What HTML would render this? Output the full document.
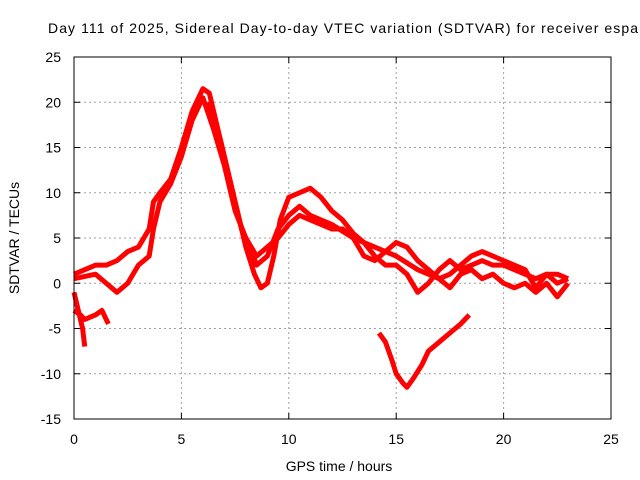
<!DOCTYPE html>
<html><head><meta charset="utf-8"><style>
body{margin:0;background:#fff}
svg{display:block;font-family:"Liberation Sans",sans-serif}
</style></head><body>
<svg id="chart" width="640" height="480">
<text x="48" y="33" font-size="14" textLength="590">Day 111 of 2025, Sidereal Day-to-day VTEC variation (SDTVAR) for receiver espa</text>
<text x="339" y="471" font-size="14" text-anchor="middle">GPS time / hours</text>
<text transform="translate(19,238) rotate(-90)" font-size="14" text-anchor="middle">SDTVAR / TECUs</text>
<g id="grid"></g><g id="series"></g><g id="axes"></g>
</svg>
<script>
const xTicks=[0,5,10,15,20,25];
const yTicks=[-15,-10,-5,0,5,10,15,20,25];
const seriesA=[[0,1],[0.5,1.5],[1,2],[1.5,2],[2,2.5],[2.5,3.5],[3,4],[3.5,6],[3.7,9],[4,10],[4.5,11.5],[5,15],[5.5,19],[6,21.5],[6.3,21],[6.6,18],[7,14],[7.5,9],[8,4],[8.4,1],[8.7,-0.5],[9,0],[9.3,3],[9.6,7],[10,9.5],[10.5,10],[11,10.5],[11.5,9.5],[12,8],[12.5,7],[13,5.5],[13.5,4.5],[14,3],[14.5,2],[15,2],[15.5,1],[16,-1],[16.5,0],[17,1.5],[17.5,2.5],[18,1.5],[18.5,2],[19,2.5],[19.5,2],[20,2],[20.5,1.5],[21,1],[21.5,0.5],[22,1],[22.5,0],[23,0.5]];
const seriesB=[[0,0.5],[1,1],[1.5,0],[2,-1],[2.5,0],[3,2],[3.5,3],[3.7,6],[4,9],[4.5,11],[5,14],[5.5,18],[6,20.5],[6.5,17],[7,13],[7.5,8],[8,5],[8.5,3],[9,4],[9.5,5],[10,6.5],[10.5,7.5],[11,7],[11.5,6.5],[12,6],[12.5,6],[13,5],[13.5,3],[14,2.5],[14.5,3.5],[15,4.5],[15.5,4],[16,2.5],[16.5,1.5],[17,0.5],[17.5,1],[18,2],[18.5,3],[19,3.5],[19.5,3],[20,2.5],[20.5,2],[21,1.5],[21.5,-0.5],[22,1],[22.5,1],[23,0.5]];
const seriesC=[[6.2,20],[6.8,16],[7.3,11],[7.8,6],[8.2,4],[8.5,2],[9,3],[9.5,6],[10,7.5],[10.5,8.5],[11,7.5],[11.5,7],[12,6.5],[13,5],[14,4],[15,3],[16,1.5],[17,0.5],[17.5,-0.5],[18,1],[18.5,1.5],[19,0.5],[19.5,1],[20,0],[20.5,-0.5],[21,0],[21.5,-1],[22,0],[22.5,-1.5],[23,0]];
const seriesD=[[0,-3],[0.3,-3.5],[0.5,-4],[1,-3.5],[1.3,-3],[1.6,-4.5]];
const seriesE=[[0,-1],[0.2,-3],[0.4,-5],[0.5,-7]];
const seriesF=[[14.2,-5.5],[14.5,-6.5],[14.8,-8.5],[15,-10],[15.3,-11],[15.5,-11.5],[15.8,-10.5],[16.2,-9],[16.5,-7.5],[17,-6.5],[17.5,-5.5],[18,-4.5],[18.4,-3.5]];
const X0=74,X1=611,Y0=419,Y1=57;
const sx=v=>X0+(v-0)/25*(X1-X0);
const sy=v=>Y0-(v+15)/40*(Y0-Y1);
const NS='http://www.w3.org/2000/svg';
const mk=(t,a,p)=>{const e=document.createElementNS(NS,t);for(const k in a)e.setAttribute(k,a[k]);p.appendChild(e);return e;};
const grid=document.getElementById('grid'),axes=document.getElementById('axes'),ser=document.getElementById('series');
xTicks.forEach(t=>{
 if(t>0&&t<25){const g=mk('line',{x1:sx(t),x2:sx(t),y1:Y1,y2:Y0,stroke:'#a0a0a0','stroke-dasharray':'2,3'},grid);
 }
 const tk=mk('line',{x1:sx(t),x2:sx(t),y1:Y0,y2:Y0-6,stroke:'#000'},axes);
 
 const tk2=mk('line',{x1:sx(t),x2:sx(t),y1:Y1,y2:Y1+6,stroke:'#000'},axes);
 
 const l=mk('text',{x:sx(t),y:Y0+25,'font-size':14,'text-anchor':'middle'},axes);l.textContent=t;
 
});
yTicks.forEach(t=>{
 if(t>-15&&t<25){const g=mk('line',{x1:X0,x2:X1,y1:sy(t),y2:sy(t),stroke:'#a0a0a0','stroke-dasharray':'2,3'},grid);
 }
 const tk=mk('line',{x1:X0,x2:X0+6,y1:sy(t),y2:sy(t),stroke:'#000'},axes);
 
 const tk2=mk('line',{x1:X1,x2:X1-6,y1:sy(t),y2:sy(t),stroke:'#000'},axes);
 
 const l=mk('text',{x:X0-13,y:sy(t)+5,'font-size':14,'text-anchor':'end'},axes);l.textContent=t;
 
});
const fr=mk('rect',{x:X0,y:Y1,width:X1-X0,height:Y0-Y1,fill:'none',stroke:'#000'},axes);

[seriesA,seriesB,seriesC,seriesD,seriesE,seriesF].forEach((s,i)=>{
 const p=mk('polyline',{points:s.map(d=>sx(d[0])+','+sy(d[1])).join(' '),fill:'none',stroke:'#f00','stroke-width':5,'stroke-linejoin':'round'},ser);
 
 
});
</script>
</body></html>
